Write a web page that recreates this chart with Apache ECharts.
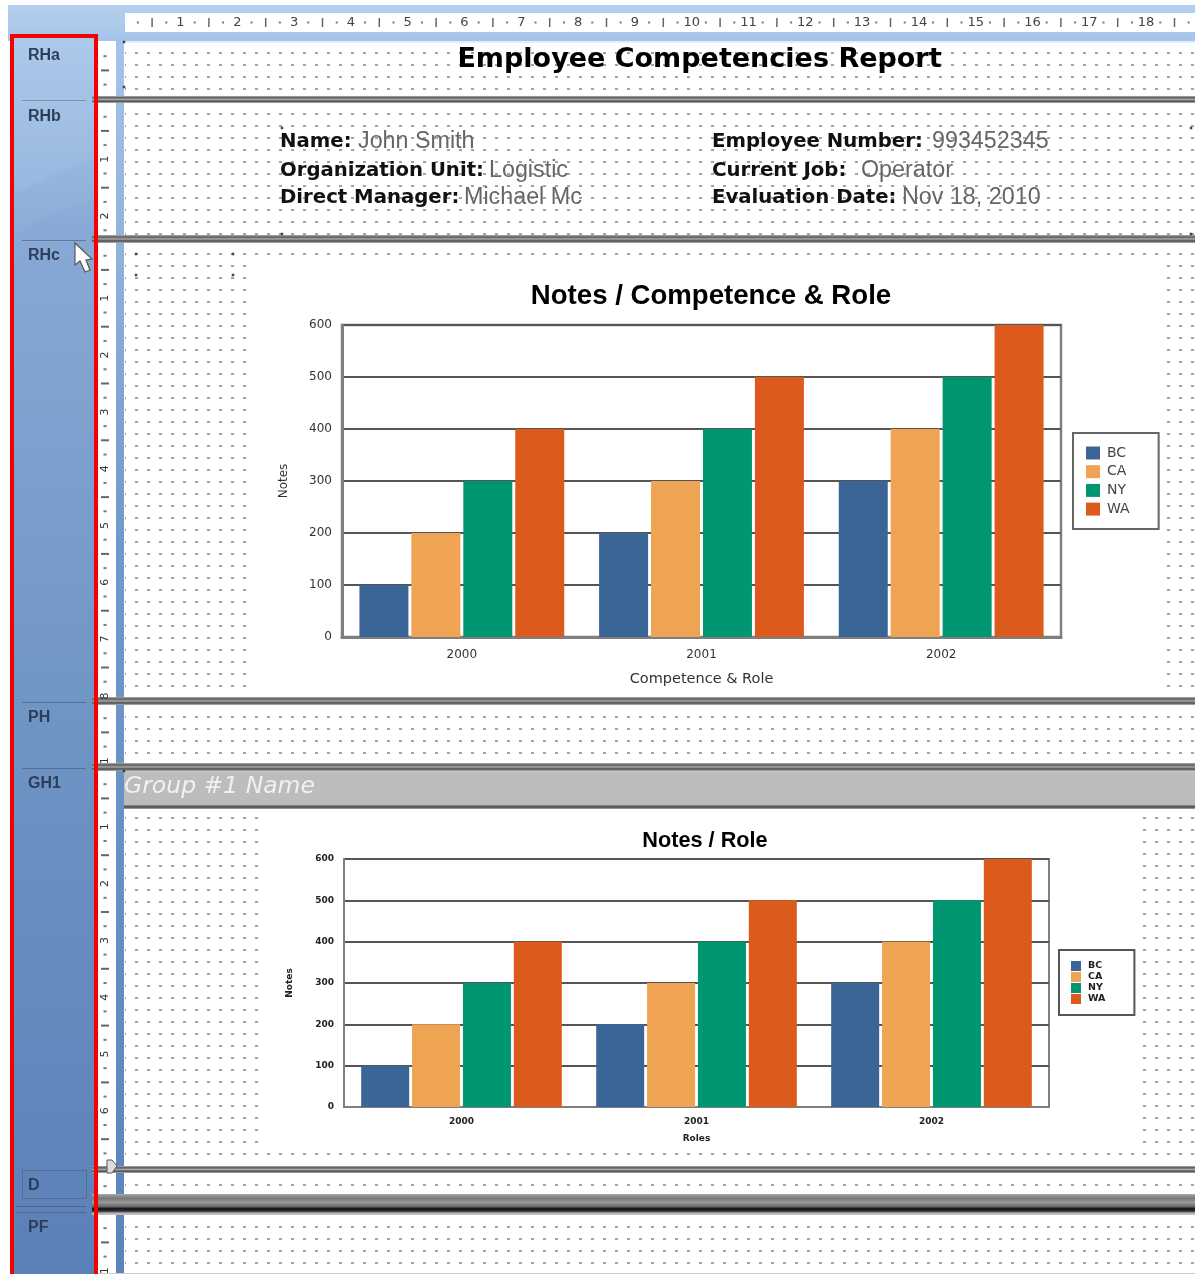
<!DOCTYPE html>
<html>
	<head>
		<meta charset="UTF-8">
		<title>Employee Competencies Report</title>
		<script src="https://cdn.jsdelivr.net/npm/echarts@6/dist/echarts.min.js"></script>
		<style>
			html, body { margin: 0; padding: 0; background: #fff; }
			#chart { width: 1195px; height: 1274px; filter: blur(0.6px); }
		</style>
	</head>
	<body>
		<div id="chart"></div>
		<script>
		var years = ['2000', '2001', '2002'];
		var stateNames = ['BC', 'CA', 'NY', 'WA'];
		var stateColors = ['#3b6597', '#eea453', '#009671', '#dd5a1d'];
		var bc = [100, 200, 300];
		var ca = [200, 300, 400];
		var ny = [300, 400, 500];
		var wa = [400, 500, 600];
		var stateValues = [bc, ca, ny, wa];

		var sectionNames = ['RHa', 'RHb', 'RHc', 'PH', 'GH1', 'D', 'PF'];
		var rulerNumbers = [1, 2, 3, 4, 5, 6, 7, 8, 9, 10, 11, 12, 13, 14, 15, 16, 17, 18];
		var leftFields = [['Name:', 'John Smith'], ['Organization Unit:', 'Logistic'], ['Direct Manager:', 'Michael Mc']];
		var rightFields = [['Employee Number:', '993452345'], ['Current Job:', 'Operator'], ['Evaluation Date:', 'Nov 18, 2010']];

		var FONT = '"DejaVu Sans"';
		var items = [];

		function rect(x, y, w, h, fill) {
			items.push({type: 'rect', z: -5, silent: true, shape: {x: x, y: y, width: w, height: h}, style: {fill: fill}});
		}
		function label(x, y, str, size, color, opt) {
			opt = opt || {};
			items.push({
				type: 'text', z: -4, silent: true, x: x, y: y, rotation: opt.rotation || 0,
				style: {
					text: str, fill: color, font: (opt.style || '') + ' ' + (opt.weight || 'normal') + ' ' + size + 'px ' + (opt.family || FONT),
					textAlign: opt.align || 'left', textVerticalAlign: 'middle'
				}
			});
		}
		function vgrad(stops) {
			return {type: 'linear', x: 0, y: 0, x2: 0, y2: 1, colorStops: stops.map(function (s) { return {offset: s[0], color: s[1]}; })};
		}
		function poly(points, fill) {
			items.push({type: 'polygon', z: -4, silent: true, shape: {points: points}, style: {fill: fill}});
		}

		// dot grid tile
		var tile = document.createElement('canvas');
		tile.width = 12; tile.height = 12;
		var tctx = tile.getContext('2d');
		tctx.fillStyle = '#a2a2a2';
		tctx.fillRect(0, 0, 3, 2);

		function dots(x, y, w, h, firstRow) {
			rect(x, y, w, h, {image: tile, repeat: 'repeat', x: 135, y: firstRow - 1});
		}

		function buildBackdrop() {
			// top bar and horizontal ruler
			rect(8, 5, 1187, 36, vgrad([[0, '#b4cfee'], [1, '#a6c4ea']]));
			rect(125, 13, 1070, 19, '#fff');
			rect(124, 41, 1071, 2, '#e4eefa');

			// left blue panel
			rect(12, 36, 84, 1238, vgrad([[0, '#a9c6ea'], [0.16, '#88a9d5'], [0.55, '#6f95c5'], [1, '#5a80b8']]));
			poly([[14, 38], [94, 38], [94, 160], [60, 172], [14, 195]], 'rgba(190,215,245,0.2)');
			poly([[14, 195], [60, 172], [94, 160], [94, 200], [50, 215], [14, 235]], 'rgba(190,215,245,0.08)');

			// vertical ruler strip
			rect(116, 41, 8, 1233, vgrad([[0, '#a6c4ea'], [0.4, '#7299cb'], [1, '#5a84ba']]));

			// dot grids per section
			dots(125, 45, 1070, 50, 53);
			dots(125, 106, 1070, 130, 114);
			dots(125, 248, 1070, 447, 254);
			dots(125, 710, 1070, 52, 717);
			dots(125, 812, 1070, 350, 818);
			dots(125, 1178, 1070, 14, 1185);
			dots(125, 1220, 1070, 52, 1227);

			// chart backgrounds hide the dots
			rect(247, 260, 919, 436, '#fff');
			rect(259, 812, 883, 338, '#fff');

			// group band
			rect(124, 771, 1071, 35, vgrad([[0, '#c6c6c6'], [0.1, '#bdbdbd'], [1, '#bcbcbc']]));

			// section separators
			var sep = vgrad([[0, '#b0b0b0'], [0.25, '#5a5a5a'], [0.5, '#a8a8a8'], [0.75, '#4a4a4a'], [1, '#b8b8b8']]);
			rect(92, 96, 1103, 7, sep);
			rect(92, 235, 1103, 8, sep);
			rect(92, 697, 1103, 8, sep);
			rect(92, 763, 1103, 8, sep);
			rect(124, 805, 1071, 4, vgrad([[0, '#999'], [0.5, '#444'], [1, '#aaa']]));
			rect(92, 1166, 1103, 7, sep);
			rect(92, 1194, 1103, 21, vgrad([[0, '#aaa'], [0.2, '#777'], [0.4, '#999'], [0.6, '#666'], [0.7, '#111'], [0.82, '#333'], [0.9, '#aaa'], [1, '#ccc']]));
			rect(98, 1273, 1097, 1, '#ccc');

			// red frame around the section names
			rect(10, 34, 4, 1240, '#f50000');
			rect(94, 34, 4, 1240, '#f50000');
			rect(10, 34, 88, 4, '#f50000');

			// panel dividers
			[100, 240, 702, 768].forEach(function (y) {
				rect(22, y, 64, 1, 'rgba(70,80,100,0.55)');
			});
			[1206, 1212].forEach(function (y) {
				rect(16, y, 70, 1, 'rgba(70,80,100,0.55)');
			});
			items.push({type: 'rect', z: -4, silent: true, shape: {x: 22.5, y: 1170.5, width: 64, height: 28}, style: {fill: 'none', stroke: 'rgba(70,80,100,0.45)', lineWidth: 1}});

			// section names
			var nameY = [56, 117, 256, 718, 784, 1186, 1228];
			sectionNames.forEach(function (n, i) {
				label(28, nameY[i], n, 16, '#2d3f58', {family: '"Liberation Sans"', weight: 'bold'});
			});

			// horizontal ruler
			var unit = 56.8, x0 = 123.7;
			rulerNumbers.forEach(function (n) {
				label(x0 + unit * n, 22.5, String(n), 13, '#444', {align: 'center'});
			});
			for (var q = 1; x0 + q * unit / 4 < 1195; q++) {
				if (q % 4 === 0) continue;
				var qx = x0 + q * unit / 4;
				if (q % 2 === 0) rect(qx - 0.75, 18, 1.5, 9, '#666');
				else rect(qx - 1, 21.5, 2, 2, '#777');
			}

			// vertical ruler, restarts at every section
			var sections = [[42, 96], [102.5, 235], [241.5, 697], [704, 763], [770, 1166], [1172, 1194], [1214, 1274]];
			sections.forEach(function (s) {
				for (var i = 1; s[0] + i * 14.2 < s[1] + 1; i++) {
					var y = s[0] + i * 14.2;
					if (i % 4 === 0) label(105, y, String(i / 4), 11, '#333', {align: 'center', rotation: Math.PI / 2});
					else if (i % 2 === 0) rect(101, y - 1, 8, 2, '#666');
					else rect(103.5, y - 1, 3, 2, '#777');
				}
			});

			// report header texts
			label(699.5, 60, 'Employee Competencies Report', 27, '#000', {align: 'center', weight: 'bold'});
			var rowY = [142, 171, 198];
			var leftValueX = [358, 489, 464];
			var rightValueX = [932, 861, 902];
			leftFields.forEach(function (f, i) {
				label(280, rowY[i], f[0], 19.7, '#111', {weight: 'bold'});
				label(leftValueX[i], rowY[i], f[1], 23.3, '#666', {family: '"Liberation Sans"'});
			});
			rightFields.forEach(function (f, i) {
				label(712, rowY[i], f[0], 19.7, '#111', {weight: 'bold'});
				label(rightValueX[i], rowY[i], f[1], 23.3, '#666', {family: '"Liberation Sans"'});
			});
			label(124, 787, 'Group #1 Name', 23.5, '#f1f1f1', {style: 'italic'});

			// selection handles
			[[124, 42], [124, 87], [282, 128], [1191, 128], [282, 234], [1191, 234], [136, 254], [233, 254], [136, 275], [233, 275], [124, 771]].forEach(function (p) {
				rect(p[0] - 1.25, p[1] - 1.25, 2.5, 2.5, '#444');
			});

			// mouse pointer
			items.push({
				type: 'polygon', z: -3, silent: true,
				shape: {points: [[75, 243], [75, 265], [80, 261], [85, 272], [90, 270], [86, 260], [92, 259]]},
				style: {fill: '#fff', stroke: '#555', lineWidth: 1.2}
			});
			// detail marker
			items.push({
				type: 'polygon', z: -3, silent: true,
				shape: {points: [[107, 1160], [112, 1160], [117, 1166], [112, 1173], [107, 1173]]},
				style: {fill: '#ddd', stroke: '#555', lineWidth: 1}
			});
		}

		function barSeries(gridIndex, barWidth, barGap) {
			return stateNames.map(function (n, i) {
				return {
					name: n, type: 'bar', xAxisIndex: gridIndex, yAxisIndex: gridIndex,
					data: stateValues[i], barWidth: barWidth, barGap: barGap,
					itemStyle: {color: stateColors[i]}, silent: true
				};
			});
		}

		function createOption() {
			buildBackdrop();
			var tick2 = {fontFamily: FONT, fontSize: 9, fontWeight: 'bold', color: '#222'};
			return {
				animation: false,
				color: stateColors,
				graphic: {elements: items},
				title: [
					{text: 'Notes / Competence & Role', left: 706, top: 277, textAlign: 'center', textStyle: {fontFamily: '"Liberation Sans"', fontSize: 27.6, fontWeight: 'bold', color: '#000'}},
					{text: 'Notes / Role', left: 700, top: 825, textAlign: 'center', textStyle: {fontFamily: '"Liberation Sans"', fontSize: 21.7, fontWeight: 'bold', color: '#000'}}
				],
				grid: [
					{left: 342, top: 325, width: 719, height: 312, show: true, backgroundColor: '#fff', borderColor: '#7f7f7f', borderWidth: 2.5},
					{left: 344, top: 859, width: 705, height: 248, show: true, backgroundColor: '#fff', borderColor: '#7f7f7f', borderWidth: 2}
				],
				legend: [
					{
						left: 1073, top: 433, orient: 'vertical', data: stateNames, selectedMode: false, icon: 'rect',
						padding: [13, 29, 13, 13], itemWidth: 14, itemHeight: 13, itemGap: 4.7,
						borderColor: '#666', borderWidth: 2, backgroundColor: '#fff',
						textStyle: {fontFamily: FONT, fontSize: 14, color: '#444', padding: [0, 0, 0, 2]}
					},
					{
						left: 1059, top: 950, orient: 'vertical', data: stateNames, selectedMode: false, icon: 'rect',
						padding: [11, 29, 11, 12], itemWidth: 10, itemHeight: 10, itemGap: 1,
						borderColor: '#555', borderWidth: 2, backgroundColor: '#fff',
						textStyle: {fontFamily: FONT, fontSize: 9.5, fontWeight: 'bold', color: '#222', padding: [0, 0, 0, 2]}
					}
				],
				xAxis: [
					{
						gridIndex: 0, type: 'category', data: years, name: 'Competence & Role', nameLocation: 'middle', nameGap: 35,
						nameTextStyle: {fontFamily: FONT, fontSize: 14.5, color: '#333'},
						axisLine: {lineStyle: {color: '#7f7f7f', width: 3}}, axisTick: {show: false},
						axisLabel: {fontFamily: FONT, fontSize: 12, color: '#333', margin: 12}
					},
					{
						gridIndex: 1, type: 'category', data: years, name: 'Roles', nameLocation: 'middle', nameGap: 27,
						nameTextStyle: tick2,
						axisLine: {lineStyle: {color: '#7f7f7f', width: 2}}, axisTick: {show: false},
						axisLabel: Object.assign({margin: 10}, tick2)
					}
				],
				yAxis: [
					{
						gridIndex: 0, type: 'value', min: 0, max: 600, interval: 100, name: 'Notes', nameLocation: 'middle', nameGap: 52,
						nameTextStyle: {fontFamily: FONT, fontSize: 12, color: '#333'},
						axisLine: {show: true, lineStyle: {color: '#7f7f7f', width: 3}}, axisTick: {show: false},
						axisLabel: {fontFamily: FONT, fontSize: 12, color: '#333', margin: 10},
						splitLine: {lineStyle: {color: '#555', width: 2}}
					},
					{
						gridIndex: 1, type: 'value', min: 0, max: 600, interval: 100, name: 'Notes', nameLocation: 'middle', nameGap: 50,
						nameTextStyle: tick2,
						axisLine: {show: true, lineStyle: {color: '#7f7f7f', width: 2}}, axisTick: {show: false},
						axisLabel: Object.assign({margin: 10}, tick2),
						splitLine: {lineStyle: {color: '#555', width: 2}}
					}
				],
				series: barSeries(0, 49, '6%').concat(barSeries(1, 48, '6%'))
			};
		}

		var myChart = echarts.init(document.getElementById('chart'), null, {renderer: 'canvas'});
		myChart.setOption(createOption());
		</script>
	</body>
</html>
